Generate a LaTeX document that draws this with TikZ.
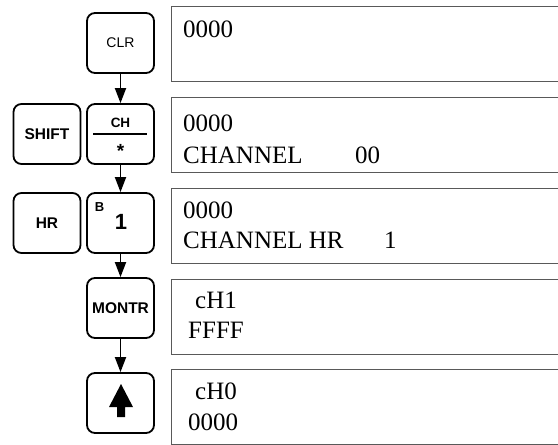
\documentclass[tikz,border=0pt]{standalone}
\usepackage{fontspec}
\setmainfont{Liberation Serif}
\setsansfont{Liberation Sans}
\usetikzlibrary{arrows.meta, positioning}

\begin{document}
\begin{tikzpicture}[
      x=1pt, y=-1pt,
      key/.style      = {draw, line width=1.8pt, rounded corners=8pt, minimum width=67pt,
                         minimum height=60pt, inner sep=0pt,
                         font=\fontsize{15.5}{18}\selectfont\sffamily\bfseries},
      disp/.style     = {draw=black!65, line width=1pt, anchor=north west, inner sep=0pt,
                         minimum width=420pt, minimum height=75pt},
      lcd/.style      = {anchor=base west, inner sep=0pt, font=\fontsize{25}{28}\selectfont},
      arrow/.style    = {-{Triangle[length=15pt, width=11pt]}, line width=1.8pt}
    ]
    \clip (0,0) rectangle (558,445);

    % Keys
    \node[key] (clr) at (120.5,43) {\fontsize{14}{16}\selectfont\mdseries CLR};
    \node[key] (shift) at (47,134) {SHIFT};
    \node[key] (ch) at (120.5,134) {};
    \node[key] (hr) at (47,223) {HR};
    \node[key] (one) at (120.5,223) {};
    \node[key] (montr) at (120.5,308) {MONTR};
    \node[key] (up) at (120.5,403) {};

    % Key faces
    \node[font=\fontsize{13.5}{15}\selectfont\sffamily\bfseries] (chlbl) at (120.5,122.5) {CH};
    \draw[line width=1.3pt] (93,134) -- (147,134);
    \node[font=\fontsize{19}{21}\selectfont\sffamily\bfseries] (star) at (120.5,151) {*};
    \node[font=\fontsize{13}{15}\selectfont\sffamily\bfseries] (blbl) at (99.5,207) {B};
    \node[font=\fontsize{22}{24}\selectfont\sffamily\bfseries] (onelbl) at (121,222) {1};
    \fill (121,384) -- (133,407) -- (125,407) -- (125,417) -- (117,417)
          -- (117,407) -- (109,407) -- cycle;

    % Displays
    \node[disp] (d1) at (171,6) {};
    \node[disp] (d2) at (171,97) {};
    \node[disp] (d3) at (171,188) {};
    \node[disp] (d4) at (171,279) {};
    \node[disp] (d5) at (171,369) {};

    \node[lcd] (t1a) at (183,37) {0000};
    \node[lcd] (t2a) at (183,131) {0000};
    \node[lcd] (t2b) at (183,163) {\makebox[172pt][l]{CHANNEL}00};
    \node[lcd] (t3a) at (183,218) {0000};
    \node[lcd] (t3b) at (183,248) {\makebox[201pt][l]{CHANNEL HR}1};
    \node[lcd] (t4a) at (195,308) {cH1};
    \node[lcd] (t4b) at (188,338) {FFFF};
    \node[lcd] (t5a) at (195,399) {cH0};
    \node[lcd] (t5b) at (188,430) {0000};

    % Key sequence
    \draw[arrow] (clr.south) -- (ch.north);
    \draw[arrow] (ch.south) -- (one.north);
    \draw[arrow] (one.south) -- (montr.north);
    \draw[arrow] (montr.south) -- (up.north);

  \end{tikzpicture}
\end{document}
